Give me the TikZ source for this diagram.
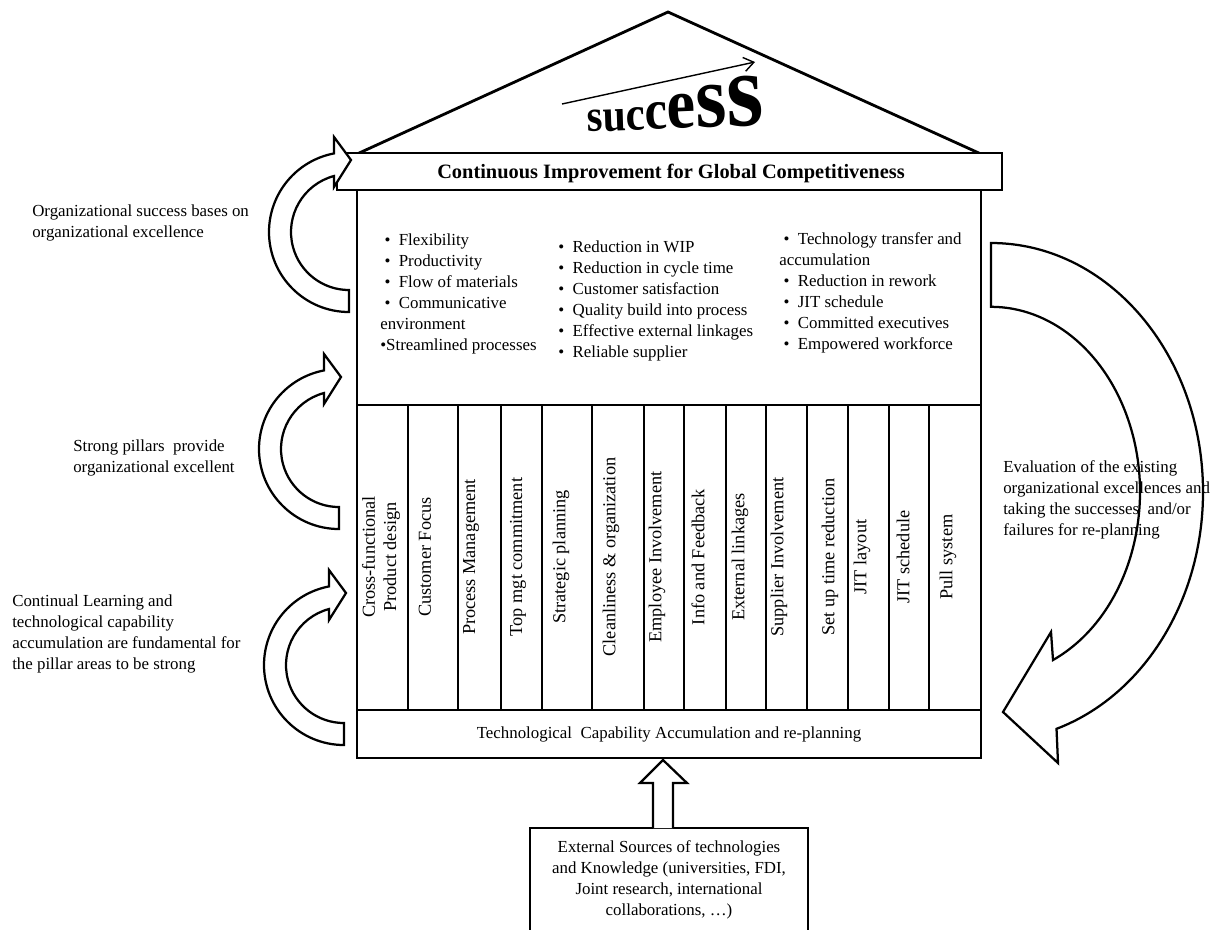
\documentclass[tikz,border=0pt]{standalone}
\usepackage{fontspec}
\setmainfont{Liberation Serif}
\usetikzlibrary{arrows.meta,calc}

\tikzset{
  frame/.style={line width=2pt},
  divider/.style={line width=1.7pt},
  turn/.style={line width=1.6pt, line join=miter},
  txt/.style={inner sep=0pt, align=left, font=\fontsize{12}{15}\selectfont},
  pillar/.style={inner sep=0pt, align=center, rotate=90, font=\fontsize{13}{15}\selectfont},
}

% curled block arrow on the left, centre at (#1,#2)
\newcommand{\curlarrow}[2]{%
  \draw[turn, fill=white] (#1,#2) ++(90:80) arc[start angle=90, end angle=259.2, radius=80]
    -- (#1-15,#2-95) -- (#1+2,#2-72) -- (#1-15,#2-45) -- (#1-15,#2-56)
    arc[start angle=255, end angle=90, radius=58] -- cycle;}

\begin{document}
\begin{tikzpicture}[x=0.025cm, y=-0.025cm]
  \useasboundingbox (0,0) rectangle (1221,929);

  % roof
  \draw[frame] (357,154) -- (668,12) -- (981,154);
  \draw[line width=1pt, -{Straight Barb[length=7pt,width=10pt]}] (562,104) -- (755,62);
  \node[anchor=base west, xscale=0.9, rotate=2, inner sep=0pt] (success) at (587,132)
    {\bfseries{\fontsize{32}{32}\selectfont s}{\fontsize{33}{33}\selectfont u}%
     {\fontsize{34}{34}\selectfont c}{\fontsize{40}{40}\selectfont c}%
     {\fontsize{51}{51}\selectfont e}{\fontsize{63}{63}\selectfont s}%
     {\fontsize{75}{75}\selectfont s}};

  % beam
  \draw[frame, fill=white] (337,153) rectangle (1002,190);
  \node[inner sep=0pt, font=\fontsize{14.5}{16}\selectfont\bfseries] (goal) at (671,173)
    {Continuous Improvement for Global Competitiveness};

  % body, pillars and base
  \draw[frame] (357,190) rectangle (981,758);
  \draw[frame] (357,405) -- (981,405);
  \draw[frame] (357,710) -- (981,710);
  \foreach \x in {408,458,501,542,592,644,684,726,766,807,848,889,929}
    \draw[divider] (\x,405) -- (\x,710);

  \node[txt, anchor=west] (col1) at (380,294)
    {\hspace{3pt}\textbullet\ \ Flexibility\\
     \hspace{3pt}\textbullet\ \ Productivity\\
     \hspace{3pt}\textbullet\ \ Flow of materials\\
     \hspace{3pt}\textbullet\ \ Communicative\\
     environment\\
     \textbullet Streamlined processes};
  \node[txt, anchor=west] (col2) at (558,301)
    {\textbullet\ \ Reduction in WIP\\
     \textbullet\ \ Reduction in cycle time\\
     \textbullet\ \ Customer satisfaction\\
     \textbullet\ \ Quality build into process\\
     \textbullet\ \ Effective external linkages\\
     \textbullet\ \ Reliable supplier};
  \node[txt, anchor=west] (col3) at (779,293)
    {\hspace{3pt}\textbullet\ \ Technology transfer and\\
     accumulation\\
     \hspace{3pt}\textbullet\ \ Reduction in rework\\
     \hspace{3pt}\textbullet\ \ JIT schedule\\
     \hspace{3pt}\textbullet\ \ Committed executives\\
     \hspace{3pt}\textbullet\ \ Empowered workforce};

  \node[pillar] (p1) at (381,557) {Cross-functional\\Product design};
  \node[pillar] (p2) at (425,557) {Customer Focus};
  \node[pillar] (p3) at (471,557) {Process Management};
  \node[pillar] (p4) at (518,557) {Top mgt commitment};
  \node[pillar] (p5) at (561,557) {Strategic planning};
  \node[pillar] (p6) at (611,557) {Cleanliness \& organization};
  \node[pillar] (p7) at (657,557) {Employee Involvement};
  \node[pillar] (p8) at (698,557) {Info and Feedback};
  \node[pillar] (p9) at (740,557) {External linkages};
  \node[pillar] (p10) at (779,557) {Supplier Involvement};
  \node[pillar] (p11) at (830,557) {Set up time reduction};
  \node[pillar] (p12) at (862,557) {JIT layout};
  \node[pillar] (p13) at (903,557) {JIT schedule};
  \node[pillar] (p14) at (948,557) {Pull system};

  \node[txt] (basis) at (669,734) {Technological\ \ Capability Accumulation and re-planning};
  \coordinate (basebar) at (663,760);

  % external sources feeding the base
  \draw[frame] (530,828) rectangle (808,945);
  \coordinate (feed) at (663,828);
  \node[txt, align=center] (sources) at (669,880)
    {External Sources of technologies\\
     and Knowledge (universities, FDI,\\
     Joint research, international\\
     collaborations, …)};
  \draw[turn, fill=white] ($(feed)+(-10,0)$) -- ($(basebar)+(-10,23)$) -- ($(basebar)+(-23,23)$)
    -- (basebar) -- ($(basebar)+(24,23)$) -- ($(basebar)+(10,23)$) -- ($(feed)+(10,0)$);

  % left side
  \curlarrow{349}{232}
  \curlarrow{339}{449}
  \curlarrow{344}{665}
  \node[txt, anchor=west] (n1) at (32,223)
    {Organizational success bases on\\ organizational excellence};
  \node[txt, anchor=west] (n2) at (73,458)
    {Strong pillars\ \ provide\\ organizational excellent};
  \node[txt, anchor=west] (n3) at (12,634)
    {Continual Learning and\\ technological capability\\ accumulation are fundamental for\\ the pillar areas to be strong};

  % right side
  \node[txt, anchor=west] (n4) at (1003,500)
    {Evaluation of the existing\\ organizational excellences and\\ taking the successes\ \ and/or\\ failures for re-planning};
  \draw[turn] (991,492) ++(-90:212 and 249)
    arc[start angle=-90, end angle=72, x radius=212, y radius=249]
    -- (1058,763) -- (1003,712) -- (1051,632) -- (1053,660)
    arc[start angle=65.4, end angle=-90, x radius=149, y radius=185] -- cycle;
\end{tikzpicture}
\end{document}
